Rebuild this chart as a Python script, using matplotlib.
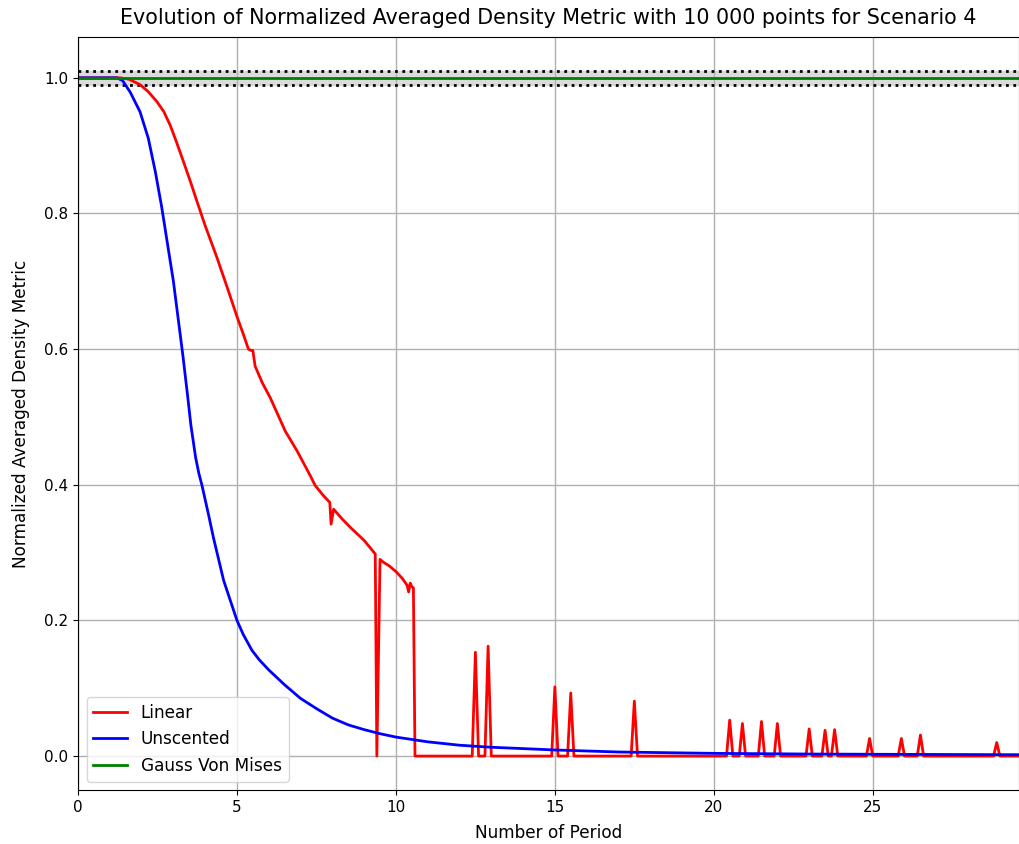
import numpy as np
import matplotlib
matplotlib.use("Agg")
import matplotlib.pyplot as plt

# Unscented filter curve
unscented_x = [0.0, 1.0, 1.22, 1.4, 1.64, 1.95, 2.21, 2.43, 2.63, 3.0, 3.3, 3.45,
               3.55, 3.7, 3.8, 3.9, 4.1, 4.26, 4.58, 5.0, 5.2, 5.47, 5.7, 6.0, 6.5,
               7.0, 7.5, 8.0, 8.5, 9.0, 9.5, 10.0, 11.0, 12.0, 13.0, 14.0, 15.0,
               17.0, 20.0, 23.0, 26.0, 29.6]
unscented_y = [1.0, 1.0, 1.0, 0.996, 0.979, 0.95, 0.911, 0.862, 0.81, 0.70, 0.59,
               0.53, 0.488, 0.44, 0.417, 0.399, 0.357, 0.322, 0.259, 0.20, 0.179,
               0.156, 0.142, 0.127, 0.105, 0.085, 0.07, 0.056, 0.046, 0.039, 0.033,
               0.028, 0.021, 0.016, 0.013, 0.011, 0.009, 0.006, 0.004, 0.003, 0.0025,
               0.002]

# Linear filter, smooth part before collapse
linear_x = [0.0, 1.0, 1.32, 1.6, 1.95, 2.2, 2.48, 2.7, 2.9, 3.1, 3.32, 3.55, 3.74,
            4.0, 4.37, 4.7, 5.0, 5.2, 5.36, 5.45, 5.5, 5.57, 5.8, 6.05, 6.52, 6.89,
            7.31, 7.46, 7.7, 7.92, 7.96, 8.04, 8.3, 8.57, 9.0, 9.35, 9.4, 9.5, 9.6,
            9.8, 10.0, 10.2, 10.35, 10.4, 10.45, 10.5, 10.55, 10.6, 10.7]
linear_y = [1.0, 1.0, 1.0, 0.998, 0.99, 0.98, 0.965, 0.95, 0.93, 0.905, 0.876,
            0.845, 0.818, 0.782, 0.735, 0.69, 0.648, 0.622, 0.60, 0.598, 0.598,
            0.575, 0.55, 0.528, 0.479, 0.45, 0.413, 0.399, 0.385, 0.374, 0.342,
            0.364, 0.35, 0.337, 0.318, 0.298, 0.0, 0.29, 0.286, 0.28, 0.272, 0.262,
            0.252, 0.242, 0.255, 0.25, 0.248, 0.0, 0.0]

# Linear filter, isolated spikes afterwards (position, peak)
spike_x = [12.5, 12.9, 15.0, 15.5, 17.5, 20.5, 20.9, 21.5, 22.0, 23.0, 23.5, 23.8,
           24.9, 25.9, 26.5, 28.9]
spike_y = [0.153, 0.162, 0.102, 0.093, 0.081, 0.053, 0.048, 0.051, 0.048, 0.040,
           0.038, 0.039, 0.026, 0.026, 0.031, 0.020]
x_end = 29.6

# assemble red series: flat zero with triangular spikes
red_x = list(linear_x)
red_y = list(linear_y)
for sx, sy in zip(spike_x, spike_y):
    red_x += [sx - 0.1, sx, sx + 0.1]
    red_y += [0.0, sy, 0.0]
red_x.append(x_end)
red_y.append(0.0)

gvm_x = [0.0, x_end]
gvm_y = [1.0, 1.0]

fig = plt.figure(figsize=(10.2, 8.44), dpi=100)
ax = fig.add_axes([0.0765, 0.064, 0.9225, 0.892])

ax.fill_between([0.0, x_end], 0.99, 1.01, color="lightgray", alpha=0.8)
ax.axhline(1.01, color="black", linestyle=":", linewidth=2)
ax.axhline(0.99, color="black", linestyle=":", linewidth=2)

ax.plot(red_x, red_y, color="red", linewidth=2, label="Linear")
ax.plot(unscented_x, unscented_y, color="blue", linewidth=2, label="Unscented")
ax.plot(gvm_x, gvm_y, color="green", linewidth=2, label="Gauss Von Mises")

ax.set_xlim(0, x_end)
ax.set_ylim(-0.05, 1.06)
ax.set_xticks([0, 5, 10, 15, 20, 25])
ax.grid(True, color="#b0b0b0", linewidth=1)
ax.tick_params(labelsize=11)

ax.set_title("Evolution of Normalized Averaged Density Metric with 10 000 points for Scenario 4",
             fontsize=14.9, pad=9.5)
ax.set_xlabel("Number of Period", fontsize=12.2, labelpad=7)
ax.set_ylabel("Normalized Averaged Density Metric", fontsize=12.2, labelpad=10)
ax.legend(loc="lower left", fontsize=12.2)

fig.savefig("out.png", dpi=100)
